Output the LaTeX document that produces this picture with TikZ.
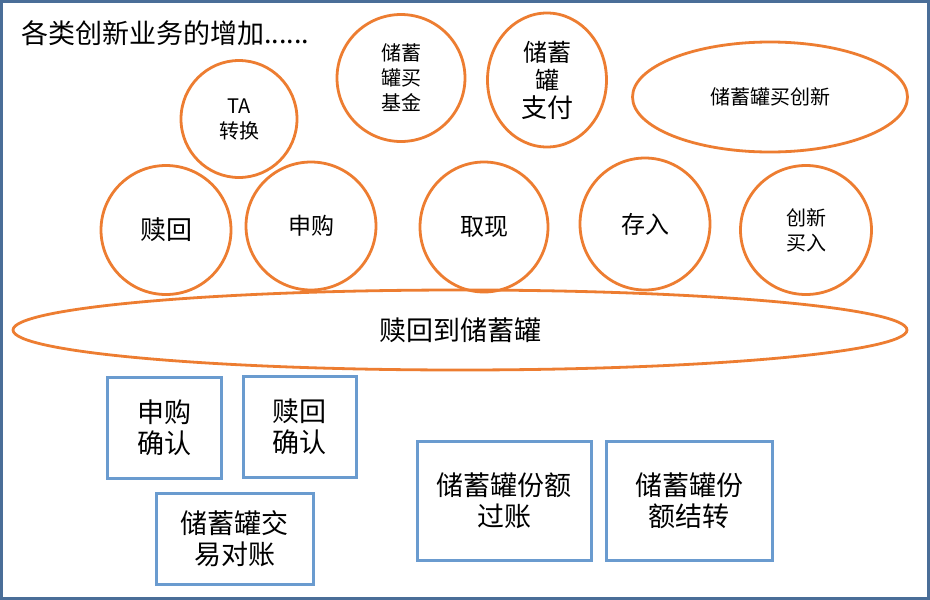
\documentclass[tikz,border=0pt]{standalone}
\usepackage{fontspec}
\setmainfont{Noto Sans CJK SC}
\usetikzlibrary{shapes.geometric}
\definecolor{frameblue}{HTML}{4A6E98}
\definecolor{ovalorange}{HTML}{ED7D31}
\definecolor{boxblue}{HTML}{6A9BCF}
\tikzset{
  oval/.style={ellipse, draw=ovalorange, line width=2.8pt, inner sep=0pt, align=center, font=\fontsize{20}{25}\selectfont},
  boxnode/.style={rectangle, draw=boxblue, line width=3pt, inner sep=0pt, align=center, font=\fontsize{27}{31}\selectfont}
}
\begin{document}
\begin{tikzpicture}[x=1pt,y=-1pt]
\useasboundingbox (0,0) rectangle (930,600);
\fill[white] (0,0) rectangle (930,600);
\draw[frameblue, line width=3pt] (1.5,1.5) rectangle (928.5,598.5);
\node[anchor=west, font=\fontsize{27}{30}\selectfont, inner sep=0pt] (title) at (21,33) {各类创新业务的增加......};
% top ovals
\node[oval, minimum width=116pt, minimum height=117pt] (ta) at (239,119) {TA\\转换};
\node[oval, minimum width=128pt, minimum height=127pt] (jijin) at (401,78) {储蓄\\罐买\\基金};
\node[oval, minimum width=119pt, minimum height=134pt, font=\fontsize{24}{28}\selectfont] (zhifu) at (547,80) {储蓄\\罐\\{\fontsize{26}{28}\selectfont 支付}};
\node[oval, minimum width=275pt, minimum height=110pt] (chuangxin) at (770,97) {储蓄罐买创新};
% middle ovals
\node[oval, minimum width=130pt, minimum height=129pt, font=\fontsize{26}{30}\selectfont] (shuhui) at (166,230) {赎回};
\node[oval, minimum width=130pt, minimum height=128pt, font=\fontsize{23}{27}\selectfont] (shengou) at (311,226) {\raisebox{2pt}{申购}};
\node[oval, minimum width=128pt, minimum height=130pt, font=\fontsize{24}{28}\selectfont] (quxian) at (484,227) {取现};
\node[oval, minimum width=130pt, minimum height=132pt, font=\fontsize{24}{28}\selectfont] (cunru) at (645,224) {\raisebox{2pt}{存入}};
\node[oval, minimum width=131pt, minimum height=129pt] (cxmr) at (806,230) {创新\\买入};
% big oval
\node[oval, minimum width=894pt, minimum height=80pt, font=\fontsize{27}{30}\selectfont] (big) at (460,330) {赎回到储蓄罐};
% boxes
\node[boxnode, minimum width=114pt, minimum height=101pt] (sgqr) at (164,427.5) {申购\\确认};
\node[boxnode, minimum width=113pt, minimum height=101pt] (shqr) at (299.5,426.5) {赎回\\确认};
\node[boxnode, minimum width=157pt, minimum height=91pt] (dz) at (234.5,538.5) {储蓄罐交\\易对账};
\node[boxnode, minimum width=174pt, minimum height=119pt] (gz) at (504,500.5) {储蓄罐份额\\过账};
\node[boxnode, minimum width=166pt, minimum height=119pt] (jz) at (689,500.5) {储蓄罐份\\额结转};
\end{tikzpicture}
\end{document}
